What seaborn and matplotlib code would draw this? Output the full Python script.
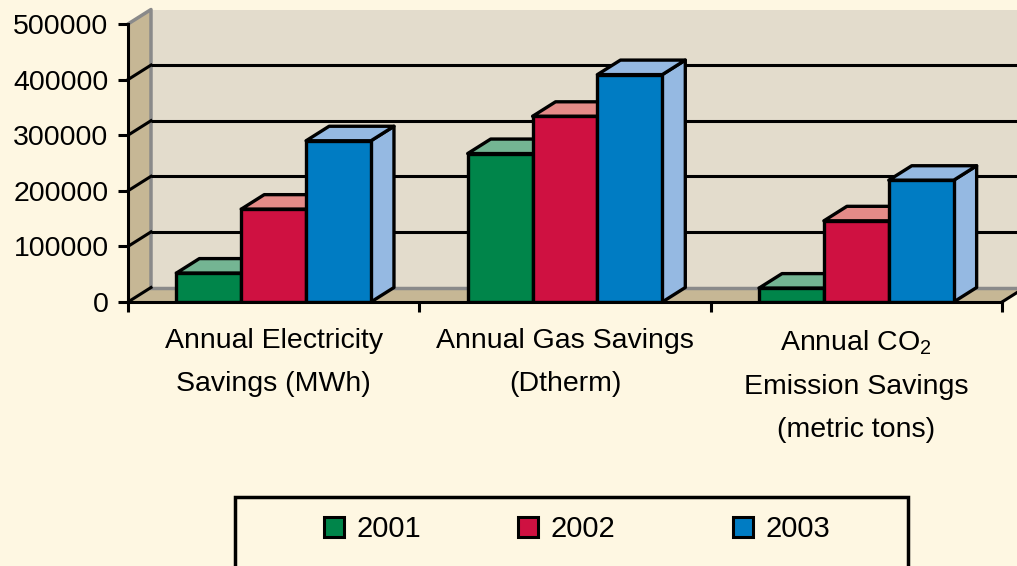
import numpy as np
import pandas as pd
import seaborn as sns
import matplotlib.pyplot as plt
from matplotlib.patches import Polygon, Rectangle, Patch

plt.rcParams["font.family"] = ["Liberation Sans", "DejaVu Sans"]
plt.rcParams["mathtext.fontset"] = "custom"
plt.rcParams["mathtext.rm"] = "Liberation Sans"

# === DATA ===
categories = [
    "Annual Electricity\nSavings (MWh)",
    "Annual Gas Savings\n(Dtherm)",
    "Annual CO$_2$\nEmission Savings\n(metric tons)",
]
years = ["2001", "2002", "2003"]
savings_2001 = [52000, 267000, 25000]
savings_2002 = [167000, 334000, 146000]
savings_2003 = [290000, 409000, 219000]
y_ticks = [0, 100000, 200000, 300000, 400000, 500000]

# === COLOURS ===
bg = "#FEF7E2"
wall = "#E3DCCC"
floor = "#C6B795"
front_colors = ["#00854A", "#CF1141", "#007CC3"]
light_colors = ["#74B593", "#E48B88", "#95B9E2"]

df = pd.DataFrame({
    "category": categories * 3,
    "year": np.repeat(years, 3),
    "value": savings_2001 + savings_2002 + savings_2003,
})

W, H = 1017, 566
fig = plt.figure(figsize=(W / 100, H / 100), dpi=100, facecolor=bg)
ax = fig.add_axes([128 / W, 1 - 302 / H, 874 / W, 278 / H])
ax.set_facecolor("none")

sns.barplot(data=df, x="category", y="value", hue="year", palette=front_colors,
            width=0.668, edgecolor="black", linewidth=2.4, saturation=1,
            legend=False, ax=ax)

xmin, xmax, ymax = -0.5, 2.5, 500000
ax.set_xlim(xmin, xmax)
ax.set_ylim(0, ymax)

# depth offset of the pseudo-3D walls/bars, pixels -> data
ddx = 23 * (xmax - xmin) / 874
ddy = 14.5 * ymax / 278

# === walls ===
ax.add_patch(Polygon([(xmin + ddx, ddy), (xmax + ddx, ddy), (xmax + ddx, ymax + ddy),
                      (xmin + ddx, ymax + ddy)], facecolor=wall, edgecolor="none",
                     zorder=0.1, clip_on=False))
ax.add_patch(Polygon([(xmin, 0), (xmin + ddx, ddy), (xmin + ddx, ymax + ddy), (xmin, ymax)],
                     facecolor=floor, edgecolor="none", zorder=0.2, clip_on=False))
ax.add_patch(Polygon([(xmin, 0), (xmax, 0), (xmax + ddx, ddy), (xmin + ddx, ddy)],
                     facecolor=floor, edgecolor="none", zorder=0.2, clip_on=False))

for v in y_ticks[1:-1]:
    ax.plot([xmin + ddx, xmax + ddx], [v + ddy] * 2, color="black", lw=2.2,
            zorder=0.6, clip_on=False, solid_capstyle="butt")
for v in y_ticks[:-1]:
    ax.plot([xmin, xmin + ddx], [v, v + ddy], color="black", lw=2.2, zorder=0.6, clip_on=False)
ax.plot([xmin, xmin + ddx, xmin + ddx], [ymax, ymax + ddy, ddy], color="#8A8A8A", lw=2.5,
        zorder=0.5, clip_on=False)
ax.plot([xmin + ddx, xmax + ddx], [ddy, ddy], color="#8A8A8A", lw=2.5, zorder=0.5, clip_on=False)
ax.plot([xmax, xmax + ddx], [0, ddy], color="black", lw=2.2, zorder=0.6, clip_on=False)

# === 3D faces on the bars ===
bars = sorted([p for p in ax.patches if isinstance(p, Rectangle) and p.get_height() > 0],
              key=lambda p: p.get_x())
for i, p in enumerate(bars):
    x0, w, h = p.get_x(), p.get_width(), p.get_height()
    lc = light_colors[i % 3]
    top = Polygon([(x0, h), (x0 + ddx, h + ddy), (x0 + w + ddx, h + ddy), (x0 + w, h)],
                  facecolor=lc, edgecolor="black", lw=2.4, joinstyle="round",
                  zorder=2 + 2 * i, clip_on=False)
    side = Polygon([(x0 + w, 0), (x0 + w + ddx, ddy), (x0 + w + ddx, h + ddy), (x0 + w, h)],
                   facecolor=lc, edgecolor="black", lw=2.4, joinstyle="round",
                   zorder=2 + 2 * i, clip_on=False)
    ax.add_patch(side)
    ax.add_patch(top)
    p.set_zorder(3 + 2 * i)

# === axes ===
for s in ["top", "right"]:
    ax.spines[s].set_visible(False)
for s in ["left", "bottom"]:
    ax.spines[s].set_linewidth(2.2)
    ax.spines[s].set_zorder(50)

ax.set_yticks(y_ticks)
ax.set_yticklabels([str(v) for v in y_ticks])
ax.tick_params(axis="y", length=7, width=2.2, pad=7, labelsize=20.5, colors="black")

ax.set_xticks([-0.5, 0.5, 1.5, 2.5])
ax.set_xticklabels([])
ax.set_xticks([0, 1, 2], minor=True)
ax.set_xticklabels(categories, minor=True, fontsize=20.5, linespacing=1.85)
ax.tick_params(axis="x", which="major", length=7, width=2.2, direction="out")
ax.tick_params(axis="x", which="minor", length=0, pad=19)
ax.set_xlabel("")
ax.set_ylabel("")

# === legend (entries unevenly spaced, as in the original) ===
fig.add_artist(Rectangle((235 / W, -0.1), 673 / W, 0.1 + (H - 497) / H,
                         transform=fig.transFigure, fill=False, edgecolor="black", lw=2.5))
legend_x = [324, 518, 733]
for year, color, lx in zip(years, front_colors, legend_x):
    leg = fig.legend([Patch(facecolor=color, edgecolor="black", linewidth=2.2)], [year],
                     loc="center left", bbox_to_anchor=(lx / W, 1 - 529 / H),
                     frameon=False, fontsize=21, handlelength=0.68, handleheight=0.68,
                     handletextpad=0.45, borderpad=0, borderaxespad=0)

fig.savefig("out.png", dpi=100, facecolor=bg)
